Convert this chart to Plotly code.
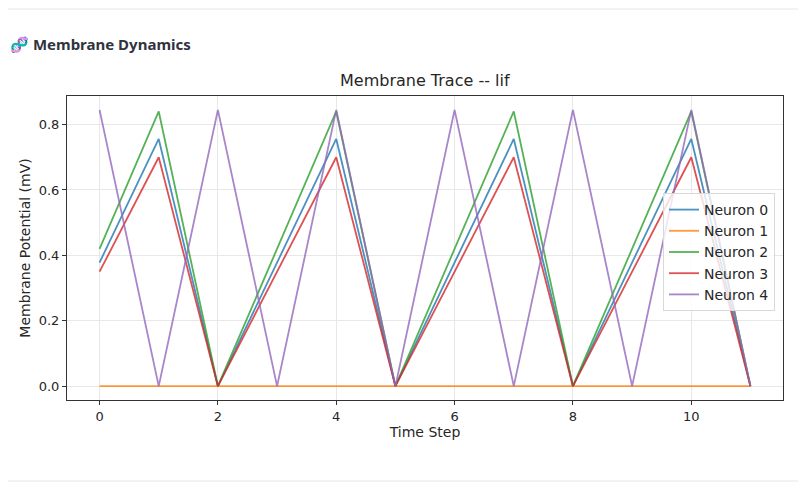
import plotly.graph_objects as go

# membrane potential per time step
time_steps = list(range(12))
neuron_0 = [0.378, 0.756, 0.0, 0.378, 0.756, 0.0, 0.378, 0.756, 0.0, 0.378, 0.756, 0.0]
neuron_1 = [0.0] * 12
neuron_2 = [0.42, 0.84, 0.0, 0.42, 0.84, 0.0, 0.42, 0.84, 0.0, 0.42, 0.84, 0.0]
neuron_3 = [0.35, 0.70, 0.0, 0.35, 0.70, 0.0, 0.35, 0.70, 0.0, 0.35, 0.70, 0.0]
neuron_4 = [0.845, 0.0, 0.845, 0.0, 0.845, 0.0, 0.845, 0.0, 0.845, 0.0, 0.845, 0.0]

names = ["Neuron 0", "Neuron 1", "Neuron 2", "Neuron 3", "Neuron 4"]
series = [neuron_0, neuron_1, neuron_2, neuron_3, neuron_4]
colors = ["#1f77b4", "#ff7f0e", "#2ca02c", "#d62728", "#9467bd"]

# the page body adds an 8px margin, so work in screen pixels and subtract it
OFF = 8
W, H = 806 - 2 * OFF, 490 - 2 * OFF
left, right, top, bottom = 67, 783, 96, 400   # axes box on screen
L, R, T, B = left - OFF, W - (right - OFF), top - OFF, H - (bottom - OFF)
pw = W - L - R
ph = H - T - B


def px_x(sx):
    return (sx - left) / pw


def px_y(sy):
    return (bottom - sy) / ph


fig = go.Figure()
for name, ys, c in zip(names, series, colors):
    fig.add_trace(go.Scatter(x=time_steps, y=ys, name=name, mode="lines",
                             line=dict(color=c, width=1.8), opacity=0.8))

font = "DejaVu Sans"
axis_common = dict(showline=True, linecolor="#333333", linewidth=1, mirror=True,
                   ticks="outside", ticklen=4, tickcolor="#333333", automargin=False,
                   showgrid=True, gridcolor="#e8e8e8", gridwidth=1, zeroline=False,
                   tickfont=dict(family=font, size=13, color="#262626"))

fig.update_xaxes(range=[-0.55, 11.55], tickvals=[0, 2, 4, 6, 8, 10],
                 title=dict(text="Time Step", font=dict(family=font, size=14, color="#262626"), standoff=4),
                 **axis_common)
fig.update_yaxes(range=[-0.0423, 0.8873], tickvals=[0, 0.2, 0.4, 0.6, 0.8], tickformat=".1f",
                 title=dict(text="Membrane Potential (mV)", font=dict(family=font, size=14, color="#262626"), standoff=4),
                 **axis_common)

# page furniture: separators (kept just inside the figure), header, plot title
for sy in (9, 481):
    fig.add_shape(type="line", xref="paper", yref="paper",
                  x0=px_x(8), x1=px_x(798), y0=px_y(sy), y1=px_y(sy),
                  line=dict(color="#e6e6e9", width=1))
fig.add_annotation(xref="paper", yref="paper", x=px_x(8), y=px_y(44),
                   xanchor="left", yanchor="middle", showarrow=False,
                   text="<b>🧬 Membrane Dynamics</b>",
                   font=dict(family="Noto Sans", size=15, color="#31333f"))
fig.add_annotation(xref="paper", yref="paper", x=0.5, y=px_y(80),
                   xanchor="center", yanchor="middle", showarrow=False,
                   text="Membrane Trace -- lif",
                   font=dict(family=font, size=16, color="#262626"))

fig.update_layout(
    width=W, height=H,
    margin=dict(l=L, r=R, t=T, b=B),
    paper_bgcolor="white", plot_bgcolor="white",
    legend=dict(x=px_x(663), y=px_y(193), xanchor="left", yanchor="top",
                bgcolor="rgba(255,255,255,0.8)", bordercolor="#d9d9d9", borderwidth=1,
                font=dict(family=font, size=14, color="#262626"), tracegroupgap=0),
)

fig.write_html("out.html")
